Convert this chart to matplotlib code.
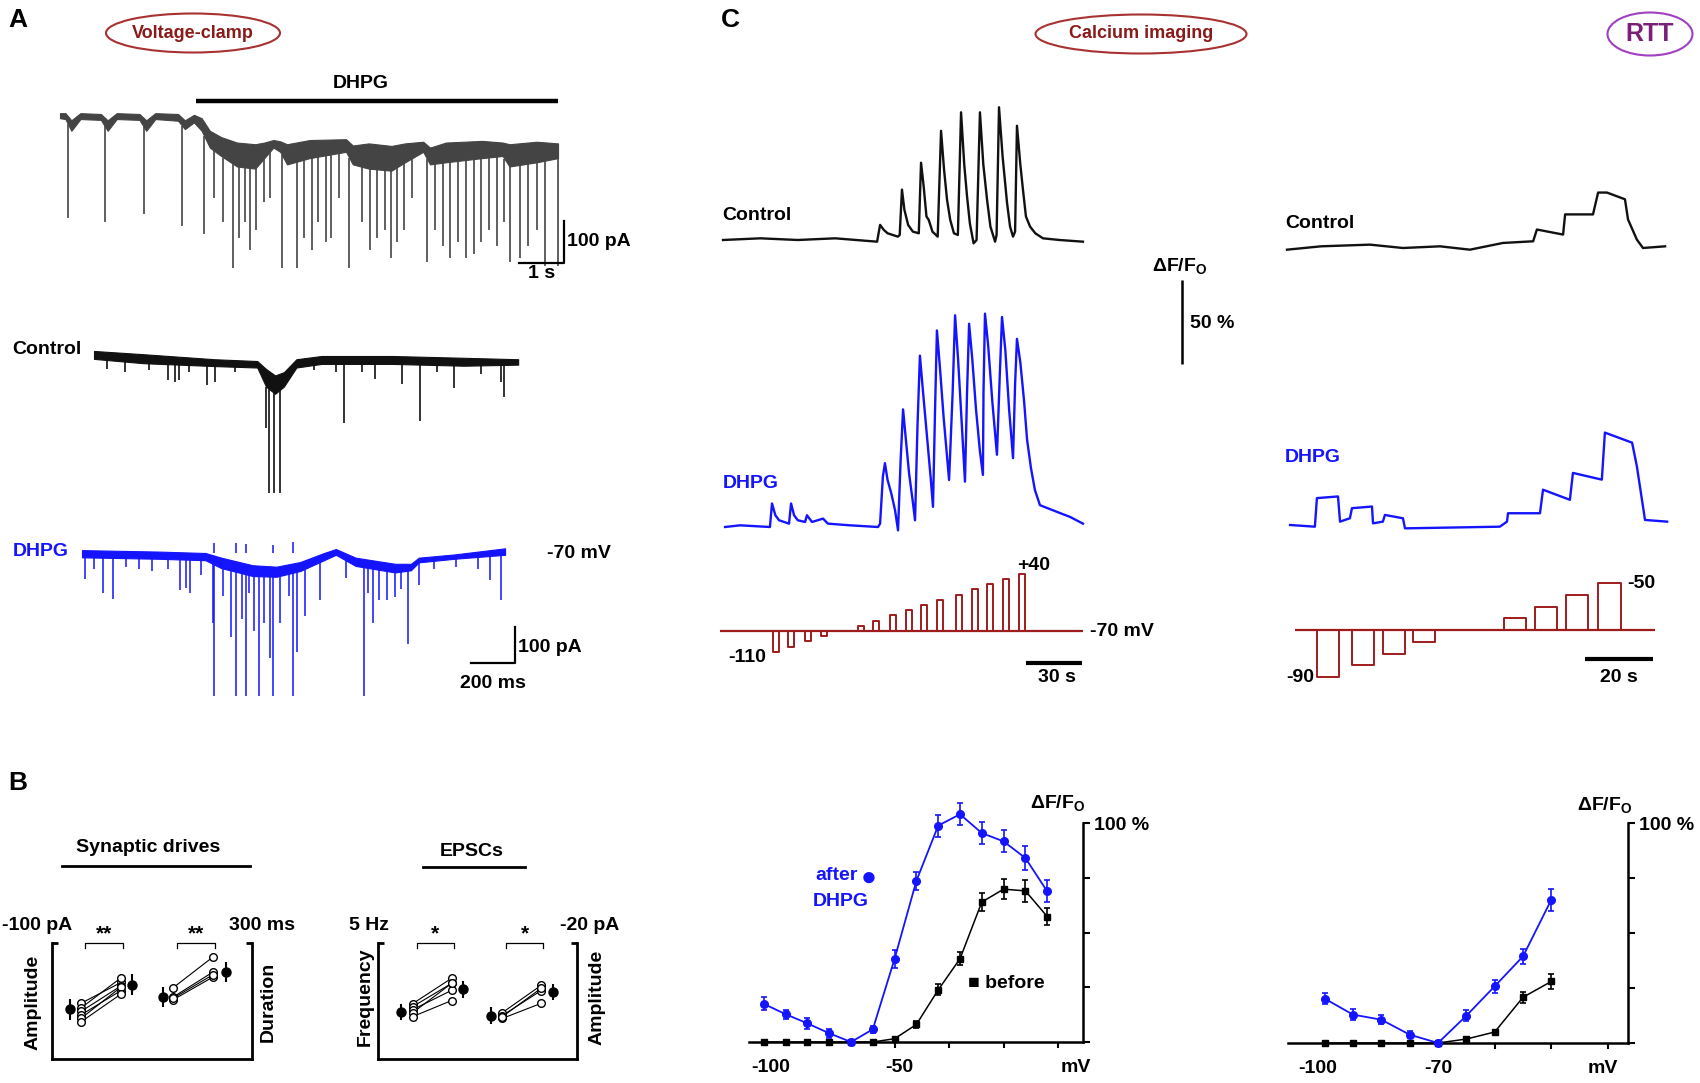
import numpy as np
import matplotlib.pyplot as plt
from matplotlib.patches import Ellipse

plt.rcParams['font.family'] = ['Liberation Sans', 'DejaVu Sans']
plt.rcParams['font.weight'] = 'bold'
plt.rcParams['mathtext.fontset'] = 'custom'
plt.rcParams['mathtext.rm'] = 'Liberation Sans:bold'
plt.rcParams['mathtext.bf'] = 'Liberation Sans:bold'
plt.rcParams['mathtext.it'] = 'Liberation Sans:bold'

BLUE = '#1414ff'
RED = '#9e1c1c'
GREY = '#444444'

# ---------------- A: voltage clamp, long recording (s, pA)
vc_t = [0.0, 0.12, 0.25, 0.45, 0.9, 1.05, 1.25, 1.75, 1.9, 2.1, 2.6, 2.75, 2.95, 3.12, 3.3,
        3.55, 3.9, 4.3, 4.5, 4.7, 4.85, 5.0, 5.5, 6.3, 6.45, 6.8, 7.3, 7.6, 8.0, 8.15, 8.5,
        9.3, 9.75, 9.9, 10.5, 10.97]
vc_hi = [2, 2, -15, 2, 0, -15, 2, 0, -15, 2, 0, -15, -2, -10, -40,
         -55, -68, -72, -68, -62, -65, -72, -62, -60, -75, -70, -76, -70, -66, -80, -68,
         -64, -68, -72, -66, -70]
vc_lo = [-10, -12, -40, -12, -14, -40, -12, -14, -40, -12, -16, -36, -20, -40, -80,
         -100, -125, -130, -105, -80, -90, -120, -105, -90, -120, -130, -135, -115, -90, -120, -115,
         -105, -100, -125, -115, -105]
vc_ev_t = [0.17, 0.99, 1.85, 2.69, 3.18, 3.39, 3.60, 3.81, 3.94, 4.07, 4.19, 4.32, 4.49, 4.62,
           4.89, 5.21, 5.38, 5.55, 5.68, 5.85, 5.97, 6.14, 6.37, 6.65, 6.82, 6.99, 7.16, 7.29,
           7.42, 7.58, 7.75, 8.09, 8.26, 8.43, 8.60, 8.77, 8.94, 9.11, 9.28, 9.45, 9.62, 9.79,
           9.92, 10.13, 10.30, 10.51, 10.68, 10.97]
vc_ev_a = [-248, -257, -238, -267, -286, -200, -257, -367, -295, -257, -324, -276, -210, -200,
           -367, -367, -295, -324, -257, -305, -295, -200, -367, -257, -324, -295, -276, -343,
           -305, -276, -200, -352, -276, -314, -343, -305, -343, -333, -305, -276, -314, -257,
           -352, -343, -314, -276, -362, -362]
dhpg_on = [3.0, 10.96]

# control sweep (ms, pA)
ctl_t = [0, 224, 548, 742, 782, 823, 863, 920, 1034, 1358, 1682, 1928]
ctl_hi = [14, 5, -9, -14, -36, -54, -45, -9, 0, 0, -5, -9]
ctl_lo = [-8, -20, -28, -32, -85, -105, -85, -32, -22, -22, -27, -24]
ctl_ev_t = [60, 143, 250, 337, 369, 386, 430, 515, 548, 640, 782, 794, 820, 844, 1000, 1098, 1136,
            1220, 1277, 1398, 1484, 1560, 1638, 1760, 1852, 1865]
ctl_ev_a = [-35, -45, -40, -68, -72, -68, -45, -81, -72, -45, -199, -380, -380, -380, -40, -45,
            -186, -45, -63, -77, -181, -45, -90, -50, -72, -113]

# DHPG sweep (ms, pA)
dh_t = [0, 345, 561, 633, 776, 884, 992, 1100, 1154, 1244, 1423, 1495, 1531, 1693, 1923]
dh_hi = [8, 4, 0, -13, -34, -38, -25, 0, 11, -13, -30, -30, -13, -4, 13]
dh_lo = [-12, -16, -20, -42, -64, -66, -50, -20, -5, -36, -54, -48, -26, -16, -5]
dh_ev_t = [13, 55, 97, 142, 200, 260, 320, 390, 444, 471, 489, 540, 597, 600, 640, 677, 701, 726,
           744, 760, 780, 803, 827, 854, 866, 902, 940, 960, 978, 1015, 1082, 1200, 1283, 1300,
           1323, 1351, 1387, 1423, 1450, 1481, 1531, 1600, 1700, 1800, 1855, 1905]
dh_ev_a = [-72, -45, -110, -127, -40, -45, -50, -45, -102, -97, -110, -60, -195, -398, -120, -233,
           -398, -182, -398, -110, -216, -398, -195, -292, -398, -195, -120, -398, -275, -174,
           -131, -70, -398, -110, -195, -131, -131, -123, -100, -254, -89, -45, -40, -45, -76, -130]
dh_up_t = [600, 701, 744, 866, 960]
dh_up_a = [28, 28, 25, 22, 30]

# ---------------- B: summary
amp_before = [-48, -44, -41, -38, -35, -32]
amp_after = [-66, -70, -63, -59, -62, -56]
amp_mean = [-43, -64]
amp_sem = [9, 9]
dur_before = [184, 160, 153, 157]
dur_after = [264, 225, 212, 218]
dur_mean = [160, 225]
dur_sem = [26, 26]
freq_before = [2.39, 2.26, 2.13, 2.0, 1.83]
freq_after = [3.48, 3.26, 2.96, 3.26, 2.52]
freq_mean = [2.04, 3.0]
freq_sem = [0.35, 0.35]
epsc_before = [-8.0, -7.5, -7.0, -7.3]
epsc_after = [-12.7, -11.8, -9.6, -12.2]
epsc_mean = [-7.5, -11.5]
epsc_sem = [1.4, 1.4]

# ---------------- C: calcium imaging (s, % dF/F0)
ca_t_ctl = [0, 20, 40, 60, 82.4, 84.0, 86.0, 88.0, 93.5,
            94.5, 95.7, 97.0, 99.0, 101.5,
            104.7, 105.9, 107.3, 108.8, 110.0, 112.0,
            114.8, 116.6, 118.2, 119.8, 121.5, 123.5,
            125.6, 127.3, 129.0, 130.5, 132.0, 134.0,
            135.6, 137.4, 139.2, 141.2, 143.0, 145.5,
            146.3, 147.6, 149.5, 151.9, 153.5, 155.1,
            156.2, 157.2, 159.0, 160.4, 162.0, 164.2, 167.0, 171.1, 180, 192.5]
ca_ctl = [0, 1, 0, 1, -1, 9, 6, 4, 2,
          3, 30, 18, 9, 5,
          4, 46, 32, 14, 12, 5,
          2, 65, 42, 24, 12, 4,
          3, 76, 45, 26, 10, -2,
          0, 76, 45, 24, 8, -1,
          3, 79, 50, 22, 8, 2,
          5, 68, 45, 30, 14, 8, 4, 1, 0, -1]
ca_t_dhpg = [1.1, 9.1, 25.1, 26.2, 28.0, 30.0, 35.3, 36.4, 38.0, 40.0, 43.9, 44.9, 47.6, 53.5,
             56.1, 67.9, 82.9,
             84.0, 85.5, 86.6, 88.0, 90.0, 92.0, 93.6,
             95.0, 96.3, 97.8, 99.5, 101.5, 102.7,
             104.0, 105.3, 107.0, 109.0, 111.0, 112.3,
             113.4, 114.4, 116.0, 118.0, 119.8, 120.9,
             122.8, 124.1, 125.7, 127.5, 129.4,
             130.5, 131.6, 133.3, 135.3, 137.4, 139.0,
             139.3, 140.1, 141.8, 144.0, 146.5,
             148.0, 149.2, 151.0, 153.0, 155.1,
             156.2, 157.2, 159.0, 161.0, 162.6, 164.7, 166.8, 169.5, 178.6, 185.6, 192.5]
ca_dhpg = [0, 1, 0, 14, 7, 4, 2, 14, 7, 4, 3, 7, 3, 5,
           2, 1, 0,
           2, 30, 38, 28, 20, 10, -2,
           40, 70, 52, 32, 15, 4,
           60, 102, 80, 55, 30, 12,
           70, 117, 95, 65, 42, 28,
           80, 126, 100, 65, 27,
           80, 121, 100, 70, 45, 31,
           80, 127, 108, 75, 43,
           90, 125, 105, 70, 41,
           85, 112, 98, 75, 52, 35, 22, 13, 9, 6, 2]
ca_span = [-1.6, 192.5]
ca_step_t = [26.7, 34.8, 43.9, 52.4, 72.2, 80.2, 89.3, 97.9, 105.9, 114.4, 124.6, 133.2, 141.2, 149.7, 158.3]
ca_step_mv = [-110, -100, -90, -80, -60, -50, -40, -30, -20, -10, 0, 10, 20, 30, 40]
ca_step_dur = 3.0

# RTT
rtt_t_ctl = [0, 10, 24.4, 34.1, 45, 53.8, 63.5, 72.4, 73.5, 81.2, 81.8, 90.0, 91.5, 94.1, 99.4,
             100.3, 102.9, 104.7, 111.2]
rtt_ctl = [-1, 1, 2, 0, 1, -1, 3, 4, 11, 8, 20, 20, 33, 33, 29, 17, 5, 0, 1]
rtt_t_dhpg = [0.9, 8.2, 8.8, 15.0, 15.6, 18.5, 19.1, 25.0, 25.3, 28.2, 28.8, 34.1, 34.7, 62.6,
              64.7, 65.0, 74.4, 75.3, 83.2, 84.1, 92.6, 93.5, 101.5, 102.9, 105.3, 111.8]
rtt_dhpg = [0, -1, 16, 17, 2, 4, 10, 11, 1, 2, 6, 4, -2, -1, 2, 7, 7, 21, 15, 31, 27, 55, 49, 35, 3, 2]
rtt_span = [2.4, 108.2]
rtt_step_t = [8.9, 19.0, 28.1, 37.1, 63.8, 72.9, 82.1, 91.6]
rtt_step_mv = [-90, -85, -80, -75, -65, -60, -55, -50]
rtt_step_dur = 6.5

# I-V curves
iv_mv = [-110, -100, -90, -80, -70, -60, -50, -40, -30, -20, -10, 0, 10, 20]
iv_after = [17.4, 12.7, 8.5, 4.0, 0, 5.8, 38, 73.6, 98.8, 104, 95.4, 91.6, 84, 68.8]
iv_after_err = [3, 2, 2.5, 2, 0, 1.5, 4, 4, 5, 5, 5, 5, 5.5, 5]
iv_before = [0, 0, 0, 0, 0, 0, 1.5, 8, 23.8, 38, 63.9, 69.8, 69, 57.3]
iv_before_err = [0, 0, 0, 0, 0, 0, 1, 1.5, 2.5, 3, 4, 4.5, 5, 4]
rtt_mv = [-90, -85, -80, -75, -70, -65, -60, -55, -50]
rtt_after = [20.2, 12.9, 10.6, 3.8, 0, 12.4, 25.8, 39.4, 65.2]
rtt_after_err = [2.5, 2.5, 2, 1.5, 0, 2.5, 3, 3.5, 5]
rtt_before = [0, 0, 0, 0, 0, 1.8, 5, 20.8, 28]
rtt_before_err = [0, 0, 0, 0, 0, 1, 1, 2.5, 3.5]

W, H = 1700, 1083
fig = plt.figure(figsize=(W / 100, H / 100), dpi=100)


def place(px, py, x0, y0, sx, sy, xlim, ylim, off=True):
    # (px, py): pixel (from top-left) where data point (x0, y0) sits; sx, sy: pixels per unit
    left = px + (xlim[0] - x0) * sx
    right = px + (xlim[1] - x0) * sx
    top = py - (ylim[1] - y0) * sy
    bottom = py - (ylim[0] - y0) * sy
    ax = fig.add_axes([left / W, 1 - bottom / H, (right - left) / W, (bottom - top) / H])
    ax.set_xlim(xlim)
    ax.set_ylim(ylim)
    ax.set_facecolor('none')
    if off:
        ax.axis('off')
    return ax


def rect_ax(x0, y0, x1, y1):
    ax = fig.add_axes([x0 / W, 1 - y1 / H, (x1 - x0) / W, (y1 - y0) / H])
    ax.set_facecolor('none')
    return ax


def trace(ax, t, hi, lo, ev_t, ev_a, color, lw=1.0):
    ax.fill_between(t, lo, hi, color=color, lw=0.8, ec=color)
    ax.vlines(ev_t, np.interp(ev_t, t, lo), ev_a, color=color, lw=lw)


# ---- A top trace
a1 = place(60, 114, 0, 0, 45.4, 0.42, (-1, 13), (-450, 150))
trace(a1, vc_t, vc_hi, vc_lo, vc_ev_t, vc_ev_a, GREY, lw=1.2)
a1.hlines(31, dhpg_on[0], dhpg_on[1], color='black', lw=3.2)
a1.plot([10.1, 11.1, 11.1], [-355, -355, -255], color='black', lw=1.6)

# ---- A control and DHPG sweeps
a2 = place(94, 356, 0, 0, 0.22, 0.36, (-100, 2600), (-450, 80))
trace(a2, ctl_t, ctl_hi, ctl_lo, ctl_ev_t, ctl_ev_a, '#111111', lw=1.2)
a3 = place(82, 553, 0, 0, 0.22, 0.36, (-100, 2600), (-450, 80))
trace(a3, dh_t, dh_hi, dh_lo, dh_ev_t, dh_ev_a, BLUE, lw=1.1)
a3.vlines(dh_up_t, 0, dh_up_a, color=BLUE, lw=1.1)
a3.plot([1768, 1968, 1968], [-306, -306, -206], color='black', lw=1.6)


# ---- B summary panels
def summary(x0, x1, left_vals, right_vals, ylims, xs, tops):
    ax = rect_ax(x0, 943, x1, 1059)
    ax.set_xlim(0, 10)
    ax.set_ylim(*ylims[0])
    tw = ax.twinx()
    tw.set_ylim(*ylims[1])
    for a in (ax, tw):
        a.set_facecolor('none')
        a.spines['top'].set_visible(False)
        for s in a.spines.values():
            s.set_linewidth(2)
        a.set_xticks([])
        a.tick_params(axis='y', direction='in', length=4, width=2, labelleft=False, labelright=False)
    ax.spines['right'].set_visible(False)
    tw.spines['left'].set_visible(False)
    tw.spines['bottom'].set_visible(False)
    ax.set_yticks([ylims[0][1]])
    tw.set_yticks([ylims[1][1]])
    for a, (before, after, mean, sem), (xm0, xo0, xo1, xm1) in zip((ax, tw), (left_vals, right_vals), xs):
        for b, f in zip(before, after):
            a.plot([xo0, xo1], [b, f], color='black', lw=0.8, zorder=2)
        a.plot([xo0] * len(before), before, 'o', ms=5.5, mfc='white', mec='black', mew=1, zorder=3)
        a.plot([xo1] * len(after), after, 'o', ms=5.5, mfc='white', mec='black', mew=1, zorder=3)
        a.errorbar([xm0, xm1], mean, yerr=sem, fmt='o', ms=6.5, color='black', elinewidth=1.5,
                   capsize=0, zorder=4)
        a.plot([xo0 + 0.2, xo0 + 0.2, xo1 + 0.1, xo1 + 0.1], [0.96, 1, 1, 0.96], color='black', lw=0.9,
               transform=a.get_xaxis_transform(), clip_on=False)
        a.text((xo0 + xo1) / 2 + 0.15, 1.0, tops, transform=a.get_xaxis_transform(),
               ha='center', va='bottom', fontsize=15)
    return ax, tw


b1, b1t = summary(52, 252, (amp_before, amp_after, amp_mean, amp_sem),
                  (dur_before, dur_after, dur_mean, dur_sem),
                  ((0, -100), (0, 300)), ((0.9, 1.45, 3.45, 4.0), (5.55, 6.05, 8.05, 8.7)), '**')
b2, b2t = summary(378, 577, (freq_before, freq_after, freq_mean, freq_sem),
                  (epsc_before, epsc_after, epsc_mean, epsc_sem),
                  ((0, 5), (0, -20)), ((1.15, 1.75, 3.7, 4.25), (5.7, 6.25, 8.2, 8.8)), '*')

# ---- C calcium traces
c1 = place(723, 240, 0, 0, 1.87, 1.68, (-10, 260), (-80, 140))
c1.plot(ca_t_ctl, ca_ctl, color='#111111', lw=1.7)
c1.vlines(245.5, -74, -24, color='black', lw=1.8)
c2 = place(723, 527, 0, 0, 1.87, 1.68, (-10, 260), (-40, 140))
c2.plot(ca_t_dhpg, ca_dhpg, color=BLUE, lw=1.7)
c3 = place(723, 631, 0, -70, 1.87, 0.52, (-10, 260), (-150, 60))
c3.hlines(-70, ca_span[0], ca_span[1], color=RED, lw=1.6)
for t0, v in zip(ca_step_t, ca_step_mv):
    c3.plot([t0, t0, t0 + ca_step_dur, t0 + ca_step_dur], [-70, v, v, -70], color=RED, lw=1.4)
c3.hlines(-131.5, 162, 192, color='black', lw=3)

r1 = place(1287, 248, 0, 0, 3.4, 1.68, (-5, 120), (-30, 50))
r1.plot(rtt_t_ctl, rtt_ctl, color='#111111', lw=1.7)
r2 = place(1287, 525, 0, 0, 3.4, 1.68, (-5, 120), (-30, 70))
r2.plot(rtt_t_dhpg, rtt_dhpg, color=BLUE, lw=1.7)
r3 = place(1287, 630, 0, -70, 3.4, 2.35, (-5, 120), (-100, -40))
r3.hlines(-70, rtt_span[0], rtt_span[1], color=RED, lw=1.6)
for t0, v in zip(rtt_step_t, rtt_step_mv):
    r3.plot([t0, t0, t0 + rtt_step_dur, t0 + rtt_step_dur], [-70, v, v, -70], color=RED, lw=1.4)
r3.hlines(-82.3, 87.6, 107.6, color='black', lw=3)


# ---- C I-V curves
def iv(ax, mv, after, after_err, before, before_err, lab_x, lab_s, minor):
    for s in ('left', 'top'):
        ax.spines[s].set_visible(False)
    for s in ('bottom', 'right'):
        ax.spines[s].set_linewidth(1.8)
    ax.yaxis.tick_right()
    ax.set_yticks([0, 25, 50, 75, 100])
    ax.set_yticklabels(['', '', '', '', '100 %'], fontsize=14, fontweight='bold')
    ax.tick_params(axis='y', length=5, width=1.5, pad=3)
    ax.set_xticks(lab_x)
    ax.set_xticklabels(lab_s, fontsize=14, fontweight='bold')
    ax.set_xticks(minor, minor=True)
    ax.tick_params(axis='x', which='major', length=0, pad=12)
    ax.tick_params(axis='x', which='minor', length=4, width=1.5)
    ax.errorbar(mv, before, yerr=before_err, fmt='-s', color='black', ms=4.5, lw=1.1,
                elinewidth=1.2, capsize=2.5, capthick=1.2, zorder=3)
    ax.errorbar(mv, after, yerr=after_err, fmt='-o', color=BLUE, ms=5.5, lw=1.3,
                elinewidth=1.2, capsize=2.5, capthick=1.2, zorder=4)
    for ch in ax.lines + ax.collections:
        ch.set_clip_on(False)


iv1 = place(851, 1042, -70, 0, 2.18, 2.19, (-117, 36.4), (0, 100), off=False)
iv(iv1, iv_mv, iv_after, iv_after_err, iv_before, iv_before_err,
   [-107, -48, 33], ['-100', '-50', 'mV'], [-50, -25, 0, 25])
iv2 = place(1438, 1043, -70, 0, 5.67, 2.2, (-96.5, -36.5), (0, 100), off=False)
iv(iv2, rtt_mv, rtt_after, rtt_after_err, rtt_before, rtt_before_err,
   [-91.2, -70, -41], ['-100', '-70', 'mV'], [-60, -50, -40])

# ---- labels in pixel coordinates
ov = fig.add_axes([0, 0, 1, 1])
ov.set_xlim(0, W)
ov.set_ylim(H, 0)
ov.axis('off')


def T(x, y, s, size=14, ha='left', color='black', **kw):
    ov.text(x, y, s, fontsize=size, ha=ha, va='center', color=color, fontweight='bold', **kw)


T(8, 20, 'A', 19)
T(8, 783, 'B', 19)
T(721, 20, 'C', 19)
for (cx, cy, w, h, s, ec, tc, fs) in [(193, 33, 174, 39, 'Voltage-clamp', '#a83232', '#8b1a1a', 13),
                                      (1141, 34, 211, 39, 'Calcium imaging', '#a83232', '#8b1a1a', 13),
                                      (1650, 34, 85, 43, 'RTT', '#a040c0', '#7a1f7a', 18)]:
    ov.add_patch(Ellipse((cx, cy), w, h, fill=False, ec=ec, lw=1.5))
    T(cx, cy, s, fs, ha='center', color=tc)

T(361, 83, 'DHPG', ha='center')
T(567, 241, '100 pA')
T(542, 274, '1 s', ha='center')
T(12, 349, 'Control')
T(13, 552, 'DHPG', color=BLUE)
T(547, 553, '-70 mV')
T(518, 647, '100 pA')
T(493, 683, '200 ms', ha='center')

T(148, 848, 'Synaptic drives', ha='center')
ov.plot([62, 250], [866, 866], color='black', lw=2)
T(37, 925, '-100 pA', ha='center')
T(262, 925, '300 ms', ha='center')
T(33, 1002, 'Amplitude', ha='center', rotation=90)
T(268, 1002, 'Duration', ha='center', rotation=90)
T(472, 852, 'EPSCs', ha='center')
ov.plot([423, 525], [867, 867], color='black', lw=2)
T(369, 926, '5 Hz', ha='center')
T(590, 926, '-20 pA', ha='center')
T(365, 997, 'Frequency', ha='center', rotation=90)
T(597, 997, 'Amplitude', ha='center', rotation=90)

T(722, 215, 'Control')
T(723, 483, 'DHPG', color=BLUE)
T(1180, 266, 'ΔF/F$_\\mathbf{O}$', ha='center')
T(1190, 324, '50 %')
T(1285, 223, 'Control')
T(1285, 458, 'DHPG', color=BLUE)
T(1034, 565, '+40', ha='center')
T(747, 657, '-110', ha='center')
T(1090, 632, '-70 mV')
T(1057, 677, '30 s', ha='center')
T(1300, 677, '-90', ha='center')
T(1627, 583, '-50')
T(1619, 678, '20 s', ha='center')

T(815, 876, 'after', color=BLUE)
T(861, 878, '●', size=19, color=BLUE)
T(813, 902, 'DHPG', color=BLUE)
T(968, 984, '■ before')
T(1030, 803, 'ΔF/F$_\\mathbf{O}$')
T(1577, 805, 'ΔF/F$_\\mathbf{O}$')

fig.savefig('out.png', dpi=100)
